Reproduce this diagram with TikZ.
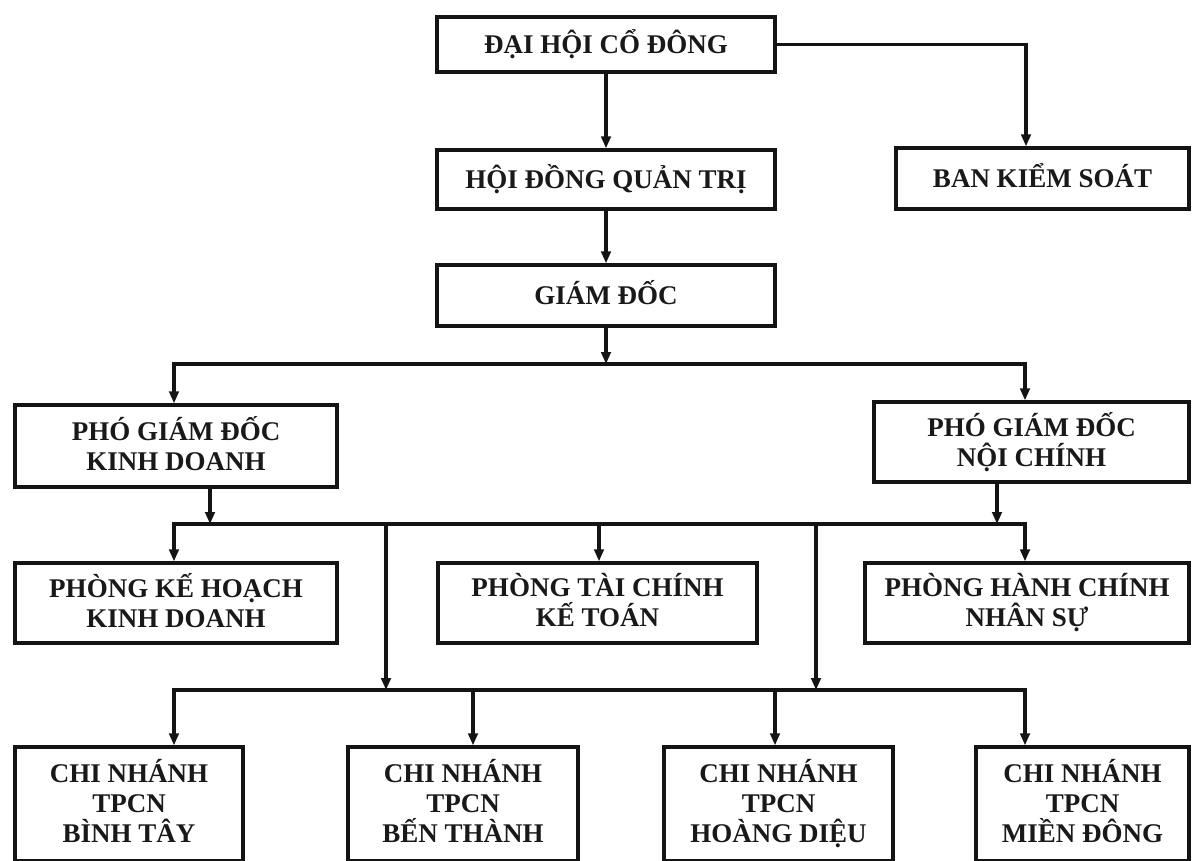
\documentclass[tikz,border=0pt]{standalone}
\usepackage{fontspec}
\setmainfont{Liberation Serif}
\usetikzlibrary{arrows.meta}
\begin{document}
\begin{tikzpicture}[x=1pt,y=-1pt,
  box/.style={draw=black!92, line width=3.3pt, inner sep=0pt, align=center, text=black!90,
    font=\fontsize{27}{30}\selectfont\bfseries,
    execute at begin node=\vphantom{Ổ},
    execute at end node=\vphantom{Ạ}},
  conn/.style={line width=3.2pt, draw=black!92, line join=miter},
  arr/.style={conn, -{Triangle[length=12pt,width=9.5pt]}}]
\useasboundingbox (0,0) rectangle (1193,861);
\clip (0,0) rectangle (1193,861);
\fill[white] (0,0) rectangle (1193,861);

% top levels
\node[box, minimum width=338pt, minimum height=55pt] (dhcd) at (606,44.5) {ĐẠI HỘI CỔ ĐÔNG};
\node[box, minimum width=338pt, minimum height=59pt] (hdqt) at (606,179.5) {HỘI ĐỒNG QUẢN TRỊ};
\node[box, minimum width=293pt, minimum height=61pt] (bks) at (1042.5,178.5) {BAN KIỂM SOÁT};
\node[box, minimum width=338pt, minimum height=61pt] (gd) at (606,295.5) {GIÁM ĐỐC};

% deputies
\node[box, minimum width=322pt, minimum height=82pt] (pgdkd) at (176,446) {PHÓ GIÁM ĐỐC\\KINH DOANH};
\node[box, minimum width=315pt, minimum height=80pt] (pgdnc) at (1031.5,442) {PHÓ GIÁM ĐỐC\\NỘI CHÍNH};

% departments
\node[box, minimum width=322pt, minimum height=80pt] (khkd) at (176,603) {PHÒNG KẾ HOẠCH\\KINH DOANH};
\node[box, minimum width=319pt, minimum height=80pt] (tckt) at (597.5,603) {PHÒNG TÀI CHÍNH\\KẾ TOÁN};
\node[box, minimum width=324pt, minimum height=80pt] (hcns) at (1027,603) {PHÒNG HÀNH CHÍNH\\NHÂN SỰ};

% branches
\node[box, minimum width=228pt, minimum height=114pt] (cn1) at (129,804) {CHI NHÁNH\\TPCN\\BÌNH TÂY};
\node[box, minimum width=230pt, minimum height=114pt] (cn2) at (463,804) {CHI NHÁNH\\TPCN\\BẾN THÀNH};
\node[box, minimum width=229pt, minimum height=114pt] (cn3) at (778.5,804) {CHI NHÁNH\\TPCN\\HOÀNG DIỆU};
\node[box, minimum width=213pt, minimum height=114pt] (cn4) at (1082.5,804) {CHI NHÁNH\\TPCN\\MIỀN ĐÔNG};

% connectors: top
\draw[arr] (dhcd.south) -- (hdqt.north);
\draw[arr] (hdqt.south) -- (gd.north);
\coordinate (bkc) at (1026,44.5);
\draw[arr] (dhcd.east) -- (bkc) -- (bkc |- bks.north);

% level 1
\coordinate (h1l) at (174,364);
\coordinate (h1r) at (1025,364);
\draw[arr] (gd.south) -- (gd.south |- h1l);
\draw[arr] (h1r) -- (h1l) -- (h1l |- pgdkd.north);
\draw[arr] (h1l) -- (h1r) -- (h1r |- pgdnc.north);

% level 2
\coordinate (h2l) at (174,524);
\coordinate (h2r) at (1025,524);
\coordinate (k1) at (210,524);
\coordinate (k2) at (997,524);
\coordinate (k3) at (599,524);
\coordinate (v1) at (386,524);
\coordinate (v2) at (816,524);
\draw[arr] (pgdkd.south -| k1) -- (k1);
\draw[arr] (pgdnc.south -| k2) -- (k2);
\draw[arr] (h2r) -- (h2l) -- (h2l |- khkd.north);
\draw[arr] (h2l) -- (h2r) -- (h2r |- hcns.north);
\draw[arr] (k3) -- (k3 |- tckt.north);

% level 3
\coordinate (h3l) at (174,690);
\coordinate (h3r) at (1025,690);
\coordinate (m2) at (473,690);
\coordinate (m3) at (775,690);
\draw[arr] (v1) -- (v1 |- h3l);
\draw[arr] (v2) -- (v2 |- h3l);
\draw[arr] (h3r) -- (h3l) -- (h3l |- cn1.north);
\draw[arr] (h3l) -- (h3r) -- (h3r |- cn4.north);
\draw[arr] (m2) -- (m2 |- cn2.north);
\draw[arr] (m3) -- (m3 |- cn3.north);
\end{tikzpicture}
\end{document}
